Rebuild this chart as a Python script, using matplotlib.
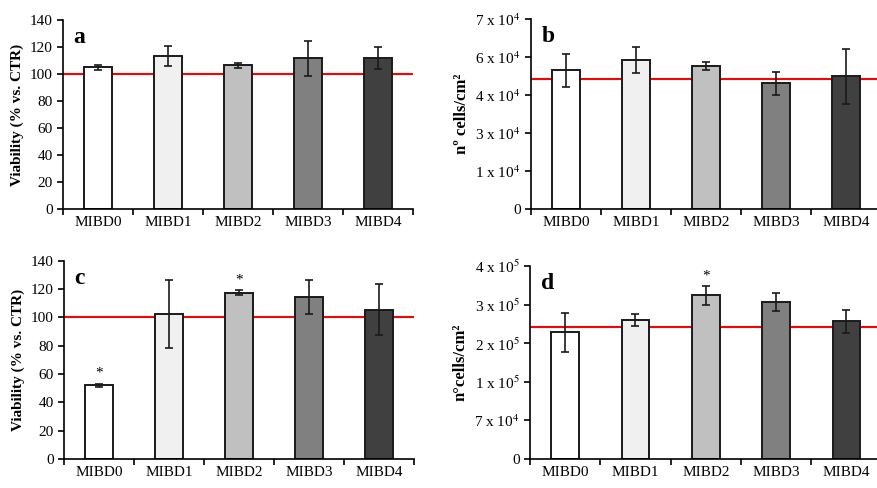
import numpy as np
import matplotlib.pyplot as plt
from matplotlib.ticker import FixedLocator, FuncFormatter

plt.rcParams['font.family'] = ['Liberation Serif', 'DejaVu Serif']
plt.rcParams['mathtext.fontset'] = 'stix'

categories = ['MIBD0', 'MIBD1', 'MIBD2', 'MIBD3', 'MIBD4']
bar_colors = ['#ffffff', '#f0f0f0', '#c0c0c0', '#808080', '#404040']

# panel a: viability, first experiment
viab_a = [105.2, 113.3, 106.4, 111.6, 112.1]
viab_a_err = [1.8, 7.4, 1.7, 12.7, 8.0]

# panel b: cell density
cells_b = [51100, 54800, 52700, 46400, 48900]
cells_b_err = [6200, 4800, 1500, 4300, 10000]
ref_b = 47800

# panel c: viability, second experiment
viab_c = [52.0, 102.6, 117.6, 114.4, 105.6]
viab_c_err = [1.3, 24.0, 1.5, 12.0, 18.0]
stars_c = [0, 2]

# panel d: cell density
cells_d = [229900, 252200, 296900, 284800, 250400]
cells_d_err = [35600, 10500, 16600, 16600, 20800]
ref_d = 240200
stars_d = [2]


def sci_label(v, pos):
    if v == 0:
        return '0'
    e = int(np.floor(np.log10(v)))
    m = int(round(v / 10 ** e))
    return r'%d x 10$^{%d}$' % (m, e)


def draw_panel(ax, vals, errs, ref, ymax, step, letter, ylabel, stars=(), sci=False):
    x = np.arange(len(categories))
    ax.axhline(ref, color='#ff0000', lw=1.5, zorder=1)
    ax.bar(x, vals, width=0.39, color=bar_colors, edgecolor='#1a1a1a', lw=1.4, zorder=2)
    ax.errorbar(x, vals, yerr=errs, fmt='none', ecolor='#1a1a1a', elinewidth=1.2,
                capsize=3, capthick=1.2, zorder=3)
    for i in stars:
        ax.text(x[i], vals[i] + errs[i] + ymax * 0.02, '*', ha='center', va='bottom', fontsize=11)
    ax.set_xlim(-0.5, len(categories) - 0.5)
    ax.set_ylim(0, ymax)
    ax.set_yticks(np.arange(0, ymax + step / 2, step))
    if sci:
        ax.yaxis.set_major_formatter(FuncFormatter(sci_label))
        ax.tick_params(axis='y', labelsize=11)
        ylab_size = 12
    else:
        ax.tick_params(axis='y', labelsize=11)
        ylab_size = 11
    ax.set_xticks(x)
    ax.set_xticklabels(categories, fontsize=11)
    ax.xaxis.set_minor_locator(FixedLocator(np.arange(-0.5, len(categories), 1.0)))
    ax.tick_params(axis='x', which='major', length=0, pad=5)
    ax.tick_params(axis='x', which='minor', length=4, width=1.2, direction='out')
    ax.tick_params(axis='y', length=4, width=1.2, direction='out')
    for s in ['top', 'right']:
        ax.spines[s].set_visible(False)
    for s in ['left', 'bottom']:
        ax.spines[s].set_linewidth(1.2)
    ax.set_ylabel(ylabel, fontsize=ylab_size, fontweight='bold')
    ax.text(0.03, 0.91, letter, transform=ax.transAxes, fontsize=17, fontweight='bold',
            ha='left', va='center')


fig = plt.figure(figsize=(8.77, 4.88), dpi=100)
ax_a = fig.add_axes([0.0718, 0.5717, 0.399, 0.387])
ax_b = fig.add_axes([0.6055, 0.5717, 0.399, 0.389])
ax_c = fig.add_axes([0.073, 0.0594, 0.399, 0.406])
ax_d = fig.add_axes([0.6043, 0.0594, 0.401, 0.395])

draw_panel(ax_a, viab_a, viab_a_err, 100, 140, 20, 'a', 'Viability (% vs. CTR)')
draw_panel(ax_b, cells_b, cells_b_err, ref_b, 70000, 14000, 'b', 'nº cells/cm²', sci=True)
draw_panel(ax_c, viab_c, viab_c_err, 100, 140, 20, 'c', 'Viability (% vs. CTR)', stars=stars_c)
draw_panel(ax_d, cells_d, cells_d_err, ref_d, 350000, 70000, 'd', 'n°cells/cm²', stars=stars_d, sci=True)

fig.savefig('out.png', dpi=100)
